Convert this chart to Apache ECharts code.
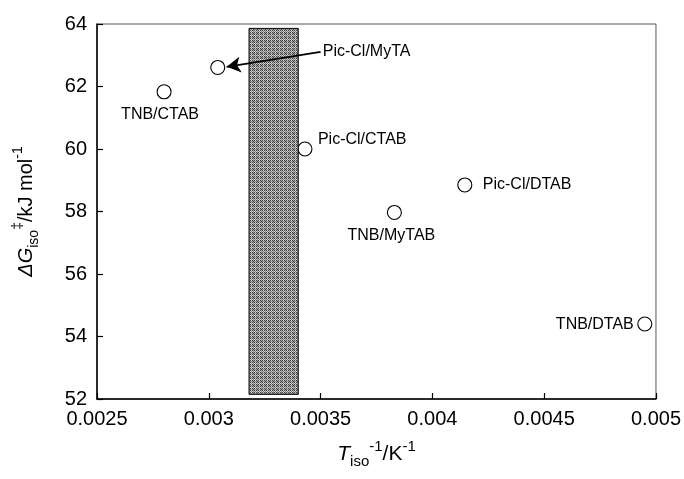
<!DOCTYPE html>
<html>
<head>
<meta charset="utf-8">
<script src="https://cdn.jsdelivr.net/npm/echarts@6/dist/echarts.min.js"></script>
<style>html,body{margin:0;padding:0;background:#fff}#c{width:684px;height:479px}</style>
</head>
<body>
<div id="c"></div>
<script>
// ---- data ----
const pointNames = ['TNB/CTAB', 'Pic-Cl/MyTA', 'Pic-Cl/CTAB', 'TNB/MyTAB', 'Pic-Cl/DTAB', 'TNB/DTAB'];
const xValues = [0.00280, 0.00304, 0.00343, 0.00383, 0.004145, 0.00495];
const yValues = [61.83, 62.61, 60.0, 57.97, 58.85, 54.4];
const bandX = [0.00318, 0.0034];
const bandY = [52.15, 63.86];
const arrowFrom = [0.0035, 63.11];
const arrowTo = [0.00308, 62.63];
const xTicks = [0.0025, 0.003, 0.0035, 0.004, 0.0045, 0.005];
const yTicks = [52, 54, 56, 58, 60, 62, 64];

// ---- label placement (style) ----
const labelPlace = [
  {offset: [-4, 23], align: 'center'},
  {offset: [105, -16], align: 'left'},
  {offset: [13, -9], align: 'left'},
  {offset: [-3, 23], align: 'center'},
  {offset: [18, 0], align: 'left'},
  {offset: [-11, 1], align: 'right'}
];

// hatched gray pattern
const pc = document.createElement('canvas');
pc.width = 4; pc.height = 4;
const g = pc.getContext('2d');
for (let i = 0; i < 4; i++) for (let j = 0; j < 4; j++) {
  let c = ((i + j) % 2 === 0) ? '#3e3e3e' : '#a8a8a8';
  if (i === 3 || j === 3) c = ((i + j) % 2 === 0) ? '#808080' : '#d2d2d2';
  g.fillStyle = c; g.fillRect(i, j, 1, 1);
}
const pattern = {image: pc, repeat: 'repeat'};

const FONT = 'Liberation Sans, Arial, sans-serif';
const chart = echarts.init(document.getElementById('c'), null, {renderer: 'canvas'});

const scatterData = xValues.map((x, i) => ({
  value: [x, yValues[i]],
  name: pointNames[i],
  label: {
    show: true, position: 'inside', formatter: pointNames[i],
    offset: labelPlace[i].offset, align: labelPlace[i].align, verticalAlign: 'middle',
    fontSize: 16, fontFamily: FONT, color: '#000'
  }
}));

const fmt = v => String(+(+v).toFixed(5));

function richSet(base, small) {
  return {
    it: {fontStyle: 'italic', fontSize: base, fontFamily: FONT, color: '#000', lineHeight: 30, verticalAlign: 'middle'},
    n: {fontSize: base, fontFamily: FONT, color: '#000', lineHeight: 30, verticalAlign: 'middle'},
    sub: {fontSize: small, fontFamily: FONT, color: '#000', lineHeight: small, verticalAlign: 'bottom'},
    sup: {fontSize: small, fontFamily: FONT, color: '#000', lineHeight: small, verticalAlign: 'top'}
  };
}

chart.setOption({
  animation: false,
  backgroundColor: '#fff',
  grid: {left: 97, right: 25, top: 24, bottom: 80, show: true, borderColor: '#555', borderWidth: 1, backgroundColor: 'transparent'},
  xAxis: {
    type: 'value', min: xTicks[0], max: xTicks[xTicks.length - 1], interval: 0.0005,
    axisLine: {show: true, onZero: false, lineStyle: {color: '#000', width: 1.5}},
    axisTick: {show: true, inside: true, length: 6, lineStyle: {color: '#000', width: 1.2}},
    splitLine: {show: false},
    axisLabel: {formatter: fmt, fontSize: 20, fontFamily: FONT, color: '#000', margin: 10, showMaxLabel: true, showMinLabel: true},
    name: '{it|T}{sub|iso}{sup|-1}{n|/K}{sup|-1}',
    nameLocation: 'middle', nameGap: 40,
    nameTextStyle: {fontFamily: FONT, color: '#000', fontSize: 21, lineHeight: 30, rich: richSet(21, 15)}
  },
  yAxis: {
    type: 'value', min: yTicks[0], max: yTicks[yTicks.length - 1], interval: 2,
    axisLine: {show: true, onZero: false, lineStyle: {color: '#000', width: 1.5}},
    axisTick: {show: true, inside: true, length: 6, lineStyle: {color: '#000', width: 1.2}},
    splitLine: {show: false},
    axisLabel: {fontSize: 20, fontFamily: FONT, color: '#000', margin: 10},
    name: '{it|\u0394G}{sub|iso}{sup|\u2021}{n|/kJ mol}{sup|-1}',
    nameLocation: 'middle', nameGap: 56, nameRotate: 90,
    nameTextStyle: {fontFamily: FONT, color: '#000', fontSize: 20, lineHeight: 30, rich: richSet(20, 14)}
  },
  series: [
    {
      type: 'scatter', z: 2,
      symbol: 'circle', symbolSize: 14,
      itemStyle: {color: '#fff', borderColor: '#000', borderWidth: 1.1, opacity: 1},
      data: scatterData
    },
    {
      type: 'custom', z: 5,
      data: [[bandX[0], bandY[0], bandX[1], bandY[1]]],
      renderItem: function (params, api) {
        const p1 = api.coord([api.value(0), api.value(3)]);
        const p2 = api.coord([api.value(2), api.value(1)]);
        return {
          type: 'rect',
          shape: {x: p1[0], y: p1[1], width: p2[0] - p1[0], height: p2[1] - p1[1]},
          style: {fill: pattern, stroke: '#000', lineWidth: 1}
        };
      }
    },
    {
      type: 'scatter', z: 10, data: [],
      markLine: {
        silent: true, animation: false, z: 10,
        symbol: ['none', 'arrow'], symbolSize: [12, 14],
        lineStyle: {color: '#000', width: 1.8, type: 'solid'},
        label: {show: false},
        data: [[{coord: arrowFrom}, {coord: arrowTo}]]
      }
    }
  ]
});
</script>
</body>
</html>
